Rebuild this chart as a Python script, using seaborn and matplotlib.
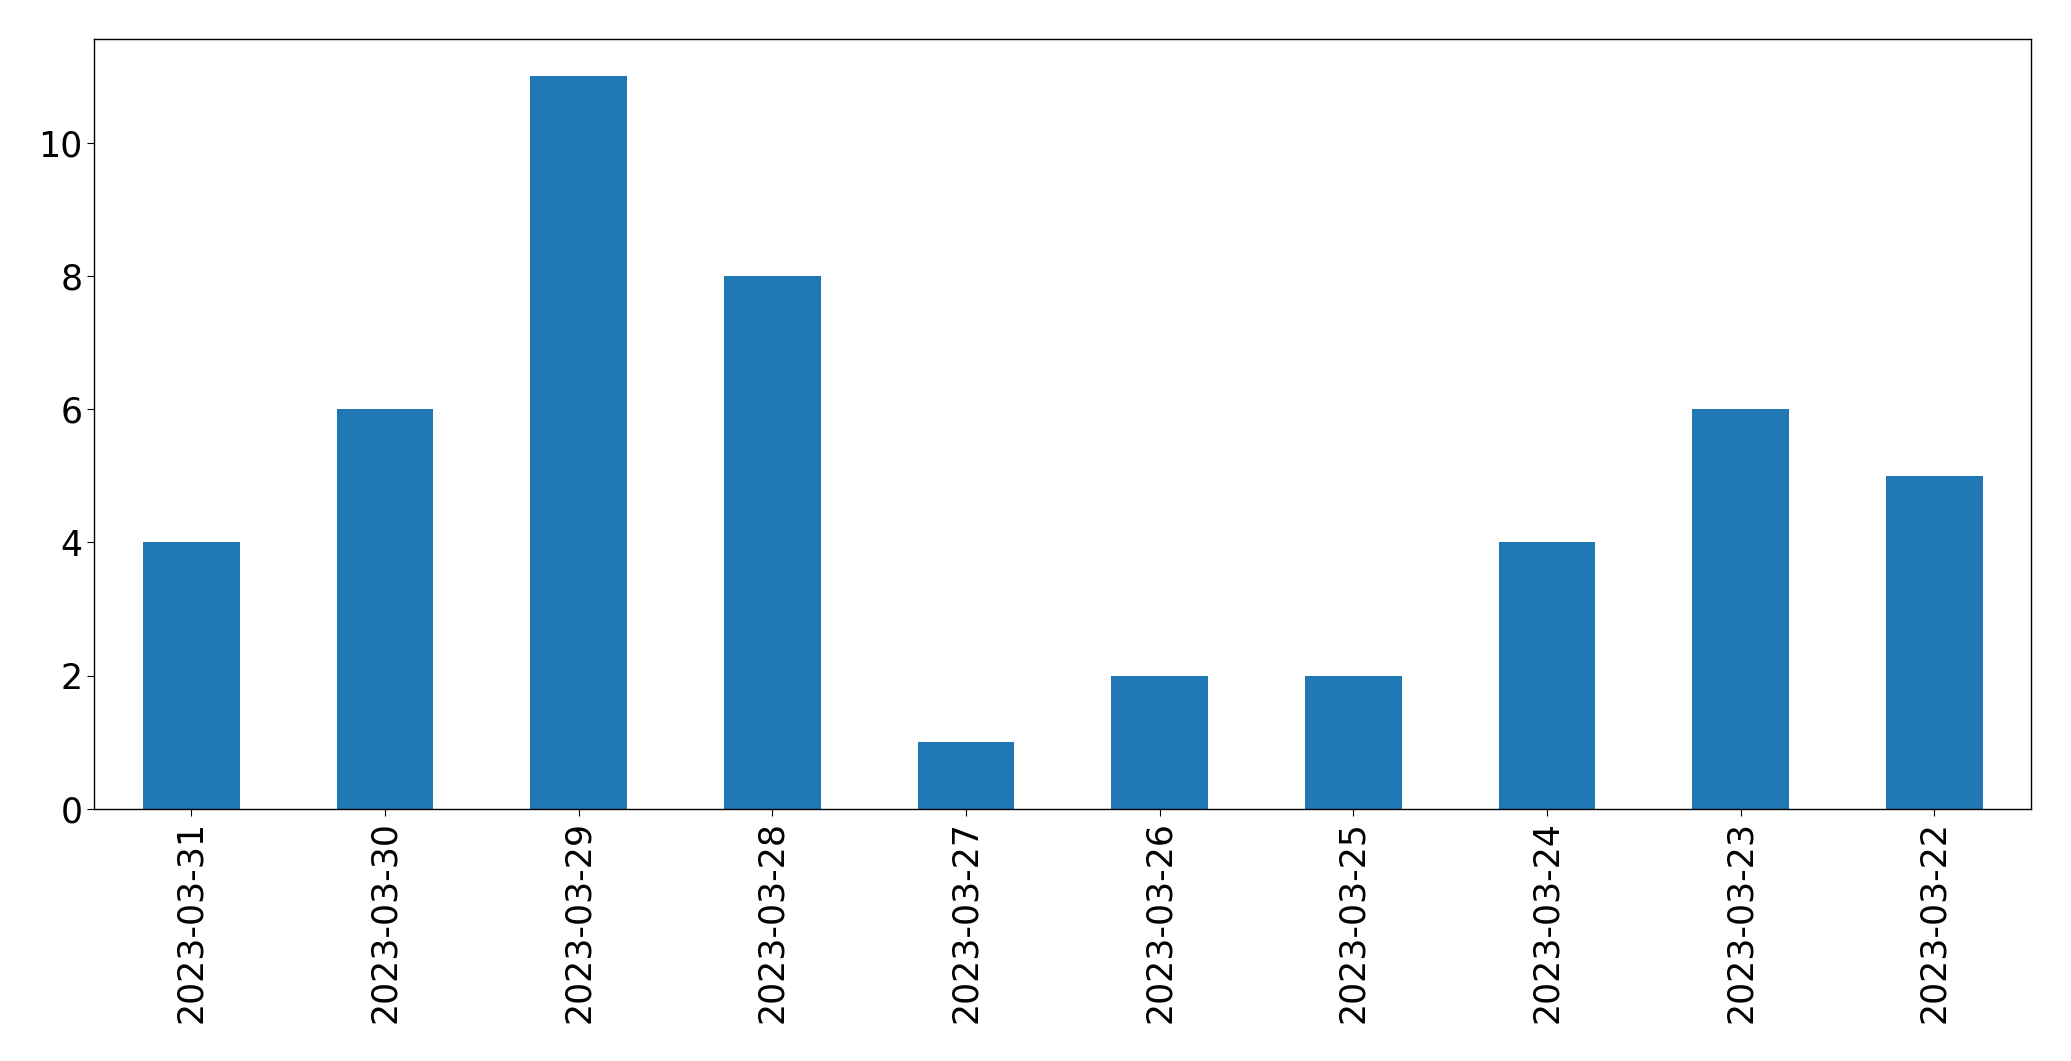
import pandas as pd
import matplotlib
matplotlib.use("Agg")
import matplotlib.pyplot as plt
import seaborn as sns

# Daily counts, newest date first as in the original
dates = ['2023-03-31', '2023-03-30', '2023-03-29', '2023-03-28', '2023-03-27',
         '2023-03-26', '2023-03-25', '2023-03-24', '2023-03-23', '2023-03-22']
counts = [4, 6, 11, 8, 1, 2, 2, 4, 6, 5]

data = pd.DataFrame({'date': dates, 'count': counts})

sns.set_style("ticks")
plt.rcParams['font.family'] = ['DejaVu Sans']
plt.rcParams['text.color'] = 'black'
plt.rcParams['xtick.color'] = 'black'
plt.rcParams['ytick.color'] = 'black'
plt.rcParams['axes.edgecolor'] = 'black'

fig = plt.figure(figsize=(20.71, 10.61), dpi=100)
ax = fig.add_axes([0.0456, 0.2375, 0.9352, 0.7255])
sns.barplot(data=data, x='date', y='count', order=dates, color='#1f77b4',
            saturation=1, width=0.5, linewidth=0, ax=ax)

ax.set_xlim(-0.5, len(dates) - 0.5)
ax.set_ylim(0, max(counts) * 1.05)
ax.set_xlabel("")
ax.set_ylabel("")
ax.tick_params(axis='both', labelsize=25, length=5, color='black',
               labelcolor='black')
plt.setp(ax.get_xticklabels(), rotation=90)
for s in ax.spines.values():
    s.set_visible(True)
    s.set_color('black')
    s.set_linewidth(1)

fig.savefig("out.png", dpi=100)
